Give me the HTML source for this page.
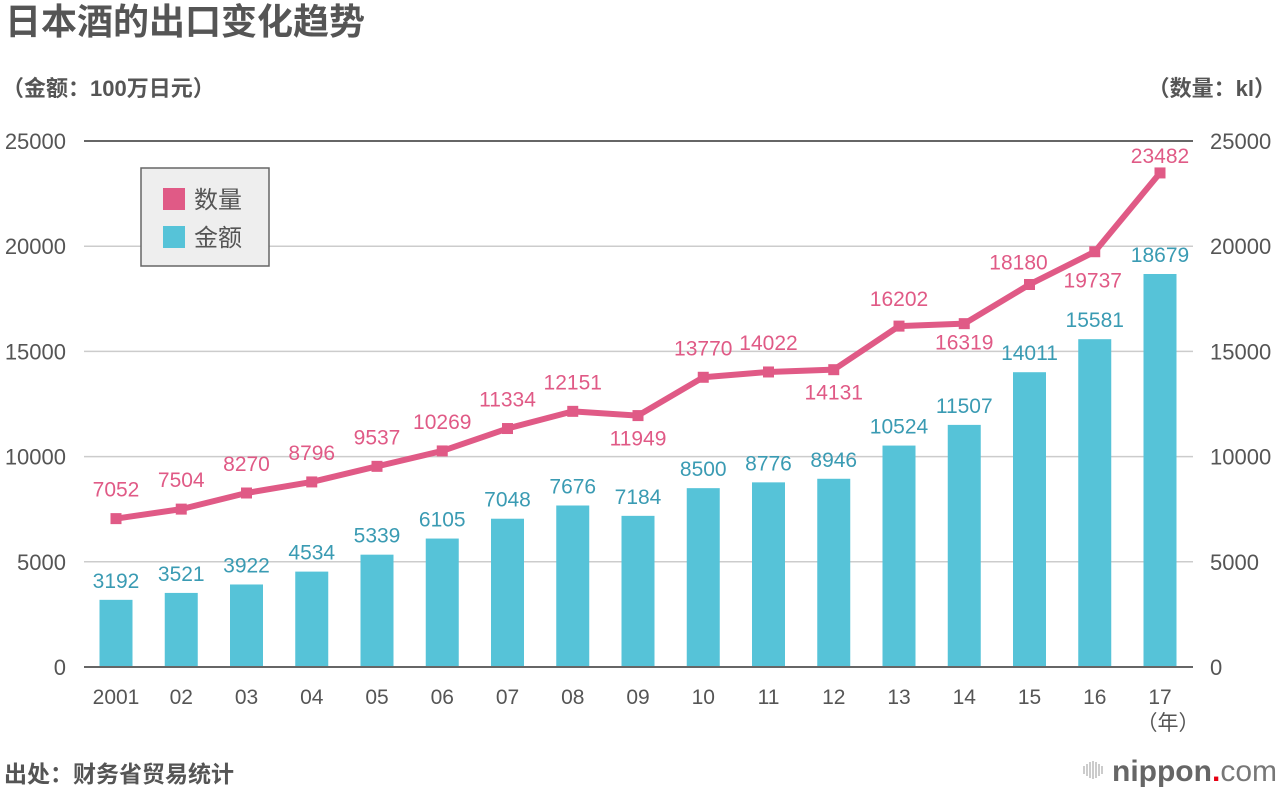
<!DOCTYPE html>
<html><head><meta charset="utf-8"><style>
body{margin:0;background:#fff;}
svg text{font-family:"Liberation Sans","Noto Sans CJK SC",sans-serif;}
</style></head><body>
<svg id="c" width="1280" height="791" xmlns="http://www.w3.org/2000/svg">
<text x="5" y="34" font-size="36" font-weight="bold" fill="#555">日本酒的出口变化趋势</text>
<text x="2" y="96" font-size="22" font-weight="bold" fill="#555">（金额：100万日元）</text>
<text x="1276" y="96" font-size="22" font-weight="bold" fill="#555" text-anchor="end">（数量：kl）</text>
<text x="4" y="782" font-size="23" font-weight="bold" fill="#555">出处：财务省贸易统计</text>
<g>
<g stroke="#bbb" stroke-width="1.5"><line x1="1084" y1="766" x2="1084" y2="774"/><line x1="1087" y1="764" x2="1087" y2="776"/><line x1="1090" y1="762" x2="1090" y2="778"/><line x1="1093" y1="761" x2="1093" y2="779"/><line x1="1096" y1="762" x2="1096" y2="778"/><line x1="1099" y1="764" x2="1099" y2="776"/><line x1="1102" y1="766" x2="1102" y2="774"/></g>
<text x="1112" y="781" font-size="30" font-weight="bold" fill="#666">nippon<tspan fill="#e60012">.</tspan><tspan font-weight="normal" fill="#777">com</tspan></text>
</g>
<g id="grid"></g><g id="bars"></g><g id="line"></g><g id="labels"></g>
<g>
<rect x="141" y="168" width="128" height="98" fill="#eee" stroke="#666" stroke-width="1.5"/>
<rect x="163" y="188" width="22" height="22" fill="#e05a86"/>
<text x="194" y="208" font-size="24" fill="#555">数量</text>
<rect x="163" y="226" width="22" height="22" fill="#56c3d8"/>
<text x="194" y="246" font-size="24" fill="#555">金额</text>
</g>
</svg>
<script>
const categories=["2001","02","03","04","05","06","07","08","09","10","11","12","13","14","15","16","17"];
const valueSeries=[3192,3521,3922,4534,5339,6105,7048,7676,7184,8500,8776,8946,10524,11507,14011,15581,18679];
const quantitySeries=[7052,7504,8270,8796,9537,10269,11334,12151,11949,13770,14022,14131,16202,16319,18180,19737,23482];
const tickLabels=[0,5000,10000,15000,20000,25000];
// label placement style (dx, dy) for quantity labels
const qOff=[[0,-22],[0,-22],[0,-22],[0,-22],[0,-22],[0,-22],[0,-22],[0,-22],[0,30],[0,-22],[0,-22],[0,30],[0,-20],[0,26],[-11,-15],[-2,36],[0,-10]];
const NS="http://www.w3.org/2000/svg";
const x0=84,x1=1193,y0=667,yTop=141,max=25000;
const y=v=>y0-(y0-yTop)*v/max;
const step=65.25,xc=i=>116+i*step;
function mk(t,a,p){const e=document.createElementNS(NS,t);for(const k in a)e.setAttribute(k,a[k]);p.appendChild(e);return e;}
const g=document.getElementById('grid');
tickLabels.forEach((t,i)=>{
 const l=mk('line',{x1:x0,x2:x1,y1:y(t),y2:y(t),stroke:(i==0||i==5)?'#666':'#ccc','stroke-width':i==0||i==5?2:1.5},g);
 
 
 const a=mk('text',{x:66,y:y(t)+8,'font-size':22,fill:'#555','text-anchor':'end'},g);a.textContent=t;
 
 
 const b=mk('text',{x:1210,y:y(t)+8,'font-size':22,fill:'#555'},g);b.textContent=t;
 
 
});
const bg=document.getElementById('bars'),lg=document.getElementById('labels'),ln=document.getElementById('line');
categories.forEach((c,i)=>{
 const r=mk('rect',{x:xc(i)-16.5,y:y(valueSeries[i]),width:33,height:y0-1-y(valueSeries[i]),fill:'#56c3d8'},bg);
 
 
 const t=mk('text',{x:xc(i),y:y(valueSeries[i])-12,'font-size':21,fill:'#3a9bb3','text-anchor':'middle'},lg);t.textContent=valueSeries[i];
 
 
 const xl=mk('text',{x:xc(i),y:704,'font-size':21,fill:'#555','text-anchor':'middle'},lg);xl.textContent=c;
 
 
});
const yl=mk('text',{x:1168,y:730,'font-size':21,fill:'#555','text-anchor':'middle'},lg);yl.textContent='（年）';


const pl=mk('polyline',{points:quantitySeries.map((v,i)=>xc(i)+','+y(v)).join(' '),fill:'none',stroke:'#e05a86','stroke-width':6,'stroke-linejoin':'round'},ln);


quantitySeries.forEach((v,i)=>{
 const m=mk('rect',{x:xc(i)-5.5,y:y(v)-5.5,width:11,height:11,fill:'#e05a86'},ln);
 
 
 const t=mk('text',{x:xc(i)+qOff[i][0],y:y(v)+qOff[i][1],'font-size':21,fill:'#e05a86','text-anchor':'middle'},lg);t.textContent=v;
 
 
});
</script>
</body></html>
